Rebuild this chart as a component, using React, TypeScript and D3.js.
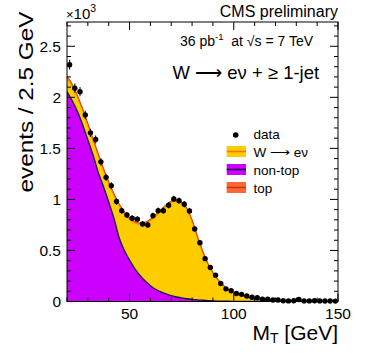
import React from "react";
import * as d3 from "d3";

// ---- data ----
const binCenters: number[] = d3.range(52).map((i) => 21.25 + 2.5 * i);
const dataCounts: number[] = [
  2320, 2090, 2055, 1827, 1652, 1587, 1368, 1216, 1135, 979, 890, 848, 816,
  806, 760, 750, 841, 890, 890, 943, 1005, 988, 953, 887, 711, 576, 420, 333,
  258, 177, 124, 106, 79, 70, 54, 41, 37, 22, 22, 15, 15, 8, 6, 8, 20, 6, 6, 8,
  6, 5, 5, 4,
];
const curveX: number[] = d3.range(53).map((i) => 20 + 2.5 * i);
const nonTop: number[] = [
  2054, 1965, 1860, 1730, 1583, 1435, 1262, 1125, 975, 815, 625, 500, 405, 322,
  255, 200, 155, 120, 95, 75, 58, 44, 35, 27, 21, 16, 12, 9, 6, 4, 3, 2, 1.5, 1,
  1, 1, 1, 0.5, 0.5, 0.5, 0.5, 0.5, 0.5, 0.5, 0.5, 0.3, 0.3, 0.3, 0.3, 0.3, 0.3,
  0.3, 0.3,
];
const wenu: number[] = [
  141, 150, 145, 146, 148, 146, 173, 167, 187, 231, 321, 368, 403, 451, 503,
  566, 642, 721, 794, 863, 917, 943, 931, 879, 770, 621, 481, 363, 274, 207,
  154, 113, 84.5, 65, 49, 38, 29, 22.5, 17.5, 13.5, 10.5, 8.5, 7, 5.5, 5, 4.5,
  4, 3.5, 3, 2.5, 2, 1.8, 1.6,
];
const topBkg: number[] = [
  15, 15, 15, 14, 14, 14, 13, 13, 13, 12, 12, 12, 12, 12, 12, 12, 11, 11, 11,
  10, 10, 10, 9, 9, 9, 8, 7, 6, 5, 4, 3, 3, 2, 2, 2, 1, 1, 1, 1, 1, 1, 1, 1,
  0.5, 0.5, 0.5, 0.5, 0.5, 0.5, 0.5, 0.5, 0.5, 0.5,
];
const xTicks: number[] = [50, 100, 150];
const xTickLabels: string[] = ["50", "100", "150"];
const yTicks: number[] = [0, 500, 1000, 1500, 2000, 2500];
const yTickLabels: string[] = ["0", "0.5", "1", "1.5", "2", "2.5"];

const FONT = "'Liberation Sans', Arial, Helvetica, sans-serif";
const C_PURPLE = "#cc00ff";
const C_YELLOW = "#ffcc00";
const C_TOP = "#ff6633";
const C_WLINE = "#ff7700";
const C_NTLINE = "#1e0a55";
const C_TOPLINE = "#d9481a";

export default function App() {
  const L = 67,
    R = 338,
    T = 22,
    B = 301.5;
  const x = d3.scaleLinear().domain([20, 150]).range([L, R]);
  const y = d3.scaleLinear().domain([0, 2738]).range([B, T]);

  const pts = curveX.map((cx, i) => ({
    x: cx,
    a: nonTop[i],
    b: nonTop[i] + wenu[i],
    c: nonTop[i] + wenu[i] + topBkg[i],
  }));
  const curve = d3.curveMonotoneX;
  const areaNT = d3
    .area<any>()
    .x((d) => x(d.x))
    .y0(y(0))
    .y1((d) => y(d.a))
    .curve(curve);
  const areaW = d3
    .area<any>()
    .x((d) => x(d.x))
    .y0((d) => y(d.a))
    .y1((d) => y(d.b))
    .curve(curve);
  const areaTop = d3
    .area<any>()
    .x((d) => x(d.x))
    .y0((d) => y(d.b))
    .y1((d) => y(d.c))
    .curve(curve);
  const lineNT = d3
    .line<any>()
    .x((d) => x(d.x))
    .y((d) => y(d.a))
    .curve(curve);
  const lineW = d3
    .line<any>()
    .x((d) => x(d.x))
    .y((d) => y(d.b))
    .curve(curve);
  const lineTop = d3
    .line<any>()
    .x((d) => x(d.x))
    .y((d) => y(d.c))
    .curve(curve);

  const xMinor = d3.range(20, 151, 10).filter((v) => !xTicks.includes(v));
  const yMinor = d3.range(0, 2701, 100).filter((v) => !yTicks.includes(v));

  return (
    <svg
      width={371}
      height={358}
      style={{ position: "absolute", left: 0, top: 0, background: "#fff" }}
      fontFamily={FONT}
    >
      <defs>
        <clipPath id="plotclip">
          <rect x={L} y={T} width={R - L} height={B - T} />
        </clipPath>
      </defs>
      <rect x={0} y={0} width={371} height={358} fill="#fff" />
      <g clipPath="url(#plotclip)">
        <path d={areaNT(pts) || ""} fill={C_PURPLE} />
        <path d={areaW(pts) || ""} fill={C_YELLOW} />
        <path d={areaTop(pts) || ""} fill={C_TOP} />
        <path d={lineNT(pts) || ""} fill="none" stroke={C_NTLINE} strokeWidth={1.4} />
        <path d={lineW(pts) || ""} fill="none" stroke={C_WLINE} strokeWidth={1.4} />
        <path d={lineTop(pts) || ""} fill="none" stroke={C_TOPLINE} strokeWidth={1} />
      </g>

      {/* ticks */}
      <g stroke="#000" strokeWidth={1}>
        {xTicks.map((v) => (
          <g key={"xt" + v}>
            <line x1={x(v)} x2={x(v)} y1={B} y2={B - 8} />
            <line x1={x(v)} x2={x(v)} y1={T} y2={T + 8} />
          </g>
        ))}
        {xMinor.map((v) => (
          <g key={"xm" + v}>
            <line x1={x(v)} x2={x(v)} y1={B} y2={B - 4} />
            <line x1={x(v)} x2={x(v)} y1={T} y2={T + 4} />
          </g>
        ))}
        {yTicks.map((v) => (
          <g key={"yt" + v}>
            <line x1={L} x2={L + 8} y1={y(v)} y2={y(v)} />
            <line x1={R} x2={R - 8} y1={y(v)} y2={y(v)} />
          </g>
        ))}
        {yMinor.map((v) => (
          <g key={"ym" + v}>
            <line x1={L} x2={L + 4} y1={y(v)} y2={y(v)} />
            <line x1={R} x2={R - 4} y1={y(v)} y2={y(v)} />
          </g>
        ))}
      </g>

      {/* data */}
      <g>
        {binCenters.map((bc, i) => {
          const n = dataCounts[i];
          const e = Math.sqrt(n);
          return (
            <g key={"d" + i}>
              <line
                x1={x(bc)}
                x2={x(bc)}
                y1={y(n - e)}
                y2={y(n + e)}
                stroke="#000"
                strokeWidth={1}
              />
              <circle cx={x(bc)} cy={y(n)} r={2.7} fill="#000" />
            </g>
          );
        })}
      </g>

      <rect x={L} y={T} width={R - L} height={B - T} fill="none" stroke="#000" strokeWidth={1} />

      {/* tick labels */}
      <g fontSize={15.5} fill="#000">
        {yTicks.map((v, i) => (
          <text key={"yl" + v} x={61} y={y(v) + 5.5} textAnchor="end">
            {yTickLabels[i]}
          </text>
        ))}
        {xTicks.map((v, i) => (
          <text key={"xl" + v} x={x(v)} y={319} textAnchor="middle">
            {xTickLabels[i]}
          </text>
        ))}
      </g>

      {/* exponent */}
      <text x={66} y={18.5} fontSize={15}>
        <tspan fontSize={13}>×</tspan>10
        <tspan fontSize={10.5} dy={-7}>
          3
        </tspan>
      </text>

      <text x={338} y={17} fontSize={16} textAnchor="end">
        CMS preliminary
      </text>

      <text x={180} y={46} fontSize={14} style={{ whiteSpace: "pre" }}>
        36 pb
        <tspan fontSize={9.5} dy={-6}>
          -1
        </tspan>
        <tspan dy={6}>{"  at \u221As = 7 TeV"}</tspan>
      </text>

      <text x={172.5} y={79} fontSize={18.5}>
        {"W \u27F6 e\u03BD + \u2265 1-jet"}
      </text>

      {/* axis titles */}
      <text
        transform="translate(33,11.5) rotate(-90)"
        fontSize={21}
        textAnchor="end"
        textLength={181}
        lengthAdjust="spacingAndGlyphs"
      >
        events / 2.5 GeV
      </text>
      <text x={338} y={340} fontSize={21} textAnchor="end">
        M
        <tspan fontSize={14} dy={3}>
          T
        </tspan>
        <tspan dy={-3}>{" [GeV]"}</tspan>
      </text>

      {/* legend */}
      <g fontSize={13.5}>
        <circle cx={235.7} cy={135} r={2.8} fill="#000" />
        <text x={253.5} y={139}>
          data
        </text>

        <rect x={226.7} y={146} width={19.3} height={11} fill={C_YELLOW} />
        <line x1={226.7} x2={246} y1={151.5} y2={151.5} stroke={C_WLINE} strokeWidth={1.6} />
        <text x={253.5} y={156.5}>
          {"W \u27F6 e\u03BD"}
        </text>

        <rect x={226.7} y={164} width={19.3} height={11} fill={C_PURPLE} />
        <line x1={226.7} x2={246} y1={169.5} y2={169.5} stroke={C_NTLINE} strokeWidth={1.6} />
        <text x={253.5} y={174.5}>
          non-top
        </text>

        <rect x={226.7} y={182} width={19.3} height={11} fill={C_TOP} />
        <line x1={226.7} x2={246} y1={187.5} y2={187.5} stroke="#b8400f" strokeWidth={1.6} />
        <text x={253.5} y={192.5}>
          top
        </text>
      </g>
    </svg>
  );
}
